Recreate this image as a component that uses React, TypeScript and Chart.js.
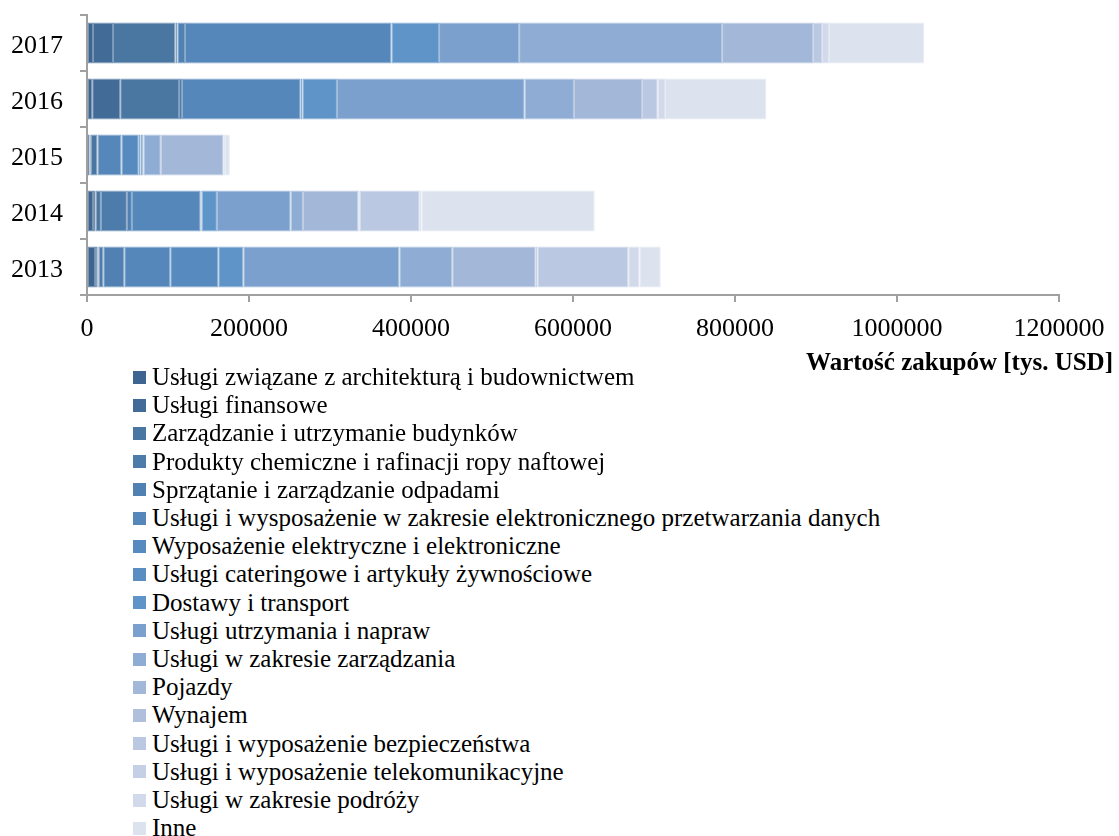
import React, { useEffect, useRef } from "react";
import { Chart, registerables } from "chart.js";

Chart.register(...registerables);

const years = ["2017", "2016", "2015", "2014", "2013"];

const seriesNames = [
  "Usługi związane z architekturą i budownictwem",
  "Usługi finansowe",
  "Zarządzanie i utrzymanie budynków",
  "Produkty chemiczne i rafinacji ropy naftowej",
  "Sprzątanie i zarządzanie odpadami",
  "Usługi i wysposażenie w zakresie elektronicznego przetwarzania danych",
  "Wyposażenie elektryczne i elektroniczne",
  "Usługi cateringowe i artykuły żywnościowe",
  "Dostawy i transport",
  "Usługi utrzymania i napraw",
  "Usługi w zakresie zarządzania",
  "Pojazdy",
  "Wynajem",
  "Usługi i wyposażenie bezpieczeństwa",
  "Usługi i wyposażenie telekomunikacyjne",
  "Usługi w zakresie podróży",
  "Inne",
];

const seriesColors = [
  "#3D6590", "#426B98", "#4A76A2", "#4D7BAA", "#5181B2", "#5587BA",
  "#578ABE", "#5A8EC2", "#5F94C8", "#7BA0CD", "#8FADD4", "#A3B7D8",
  "#B0C0DC", "#BAC9E1", "#C5D0E6", "#D1D9EA", "#DCE2EE",
];

// values per year in order: 2017, 2016, 2015, 2014, 2013
const architektura = [7400, 6400, 3000, 7400, 9900];
const finansowe = [24700, 34600, 1600, 3300, 2800];
const budynki = [77000, 72600, 8300, 6500, 1700];
const chemiczne = [2500, 3700, 0, 32100, 5700];
const sprzatanie = [9400, 0, 0, 6200, 25900];
const edp = [254800, 146500, 29600, 84800, 56800];
const elektryczne = [0, 0, 21400, 0, 59300];
const catering = [0, 2100, 2100, 1200, 0];
const dostawy = [58800, 42700, 2000, 18900, 30900];
const naprawy = [98800, 231700, 1700, 91000, 192600];
const zarzadzanie = [250600, 60900, 21400, 15200, 65300];
const pojazdy = [112300, 84000, 77400, 68400, 103100];
const wynajem = [0, 0, 0, 1600, 2000];
const bezpieczenstwo = [11100, 19400, 1600, 74100, 112300];
const telekom = [0, 0, 0, 0, 0];
const podroze = [8600, 9000, 0, 2100, 13600];
const inne = [117300, 125200, 6200, 214000, 26400];

const seriesValues = [
  architektura, finansowe, budynki, chemiczne, sprzatanie, edp, elektryczne,
  catering, dostawy, naprawy, zarzadzanie, pojazdy, wynajem, bezpieczenstwo,
  telekom, podroze, inne,
];

const xTicks = [0, 200000, 400000, 600000, 800000, 1000000, 1200000];
const axisTitle = "Wartość zakupów [tys. USD]";

const FONT = '"Liberation Serif", "Times New Roman", serif';
const AXIS_GRAY = "#A0A0A0";

function lighten(hex: string, amt: number) {
  const n = parseInt(hex.slice(1), 16);
  const r = (n >> 16) & 255, g = (n >> 8) & 255, b = n & 255;
  const m = (c: number) => Math.round(c + (255 - c) * amt);
  return `rgb(${m(r)},${m(g)},${m(b)})`;
}

const axisTitlePlugin = {
  id: "axisTitleRight",
  afterDraw(chart: any) {
    const ctx = chart.ctx;
    ctx.save();
    ctx.font = `bold 25px ${FONT}`;
    ctx.textAlign = "right";
    ctx.textBaseline = "alphabetic";
    ctx.fillStyle = "#000";
    ctx.fillText(axisTitle, 1113, 370);
    ctx.restore();
  },
};

export default function App() {
  const canvasRef = useRef<HTMLCanvasElement | null>(null);

  useEffect(() => {
    if (!canvasRef.current) return;
    const chart = new Chart(canvasRef.current, {
      type: "bar",
      data: {
        labels: years,
        datasets: seriesNames.map((name, i) => ({
          label: name,
          data: seriesValues[i],
          backgroundColor: seriesColors[i],
          borderColor: lighten(seriesColors[i], 0.3),
          borderWidth: 1,
          borderSkipped: false,
          categoryPercentage: 1,
          barPercentage: 0.73,
        })),
      },
      options: {
        indexAxis: "y",
        animation: false,
        responsive: false,
        maintainAspectRatio: false,
        events: [],
        layout: { padding: { top: 15, right: 60, left: 0, bottom: 0 } },
        plugins: {
          legend: { display: false },
          tooltip: { enabled: false },
        },
        scales: {
          x: {
            type: "linear",
            stacked: true,
            min: 0,
            max: 1200000,
            afterBuildTicks: (scale: any) => {
              scale.ticks = xTicks.map((v) => ({ value: v }));
            },
            ticks: {
              callback: (v: any) => String(v),
              font: { family: FONT, size: 26 },
              color: "#000",
              padding: 12,
              maxRotation: 0,
            },
            grid: {
              drawOnChartArea: false,
              drawTicks: true,
              tickLength: 7,
              color: AXIS_GRAY,
              lineWidth: 2,
            },
            border: { display: true, color: AXIS_GRAY, width: 2 },
            afterFit: (scale: any) => {
              scale.height = 85;
              scale.paddingLeft = 0;
              scale.paddingRight = 0;
            },
          },
          y: {
            type: "category",
            stacked: true,
            ticks: {
              font: { family: FONT, size: 26 },
              color: "#000",
              padding: 17,
              labelOffset: 3,
            },
            grid: {
              offset: true,
              drawOnChartArea: false,
              drawTicks: true,
              tickLength: 7,
              color: AXIS_GRAY,
              lineWidth: 2,
            },
            border: { display: true, color: AXIS_GRAY, width: 2 },
            afterFit: (scale: any) => {
              scale.width = 87;
              scale.paddingTop = 0;
              scale.paddingBottom = 0;
            },
          },
        },
      },
      plugins: [axisTitlePlugin],
    } as any);
    return () => chart.destroy();
  }, []);

  return (
    <div style={{ position: "absolute", left: 0, top: 0, width: 1119, height: 836, background: "#fff" }}>
      <canvas ref={canvasRef} width={1119} height={380} style={{ position: "absolute", left: 0, top: 0, width: 1119, height: 380 }} />
      {seriesNames.map((name, i) => (
        <div
          key={name}
          style={{
            position: "absolute",
            left: 133,
            top: 363 + i * 28.2,
            height: 28,
            display: "flex",
            alignItems: "center",
            whiteSpace: "nowrap",
          }}
        >
          <span style={{ display: "inline-block", width: 13, height: 13, background: seriesColors[i], marginRight: 6 }} />
          <span style={{ fontFamily: FONT, fontSize: 25, lineHeight: "28px", color: "#000" }}>{name}</span>
        </div>
      ))}
    </div>
  );
}
